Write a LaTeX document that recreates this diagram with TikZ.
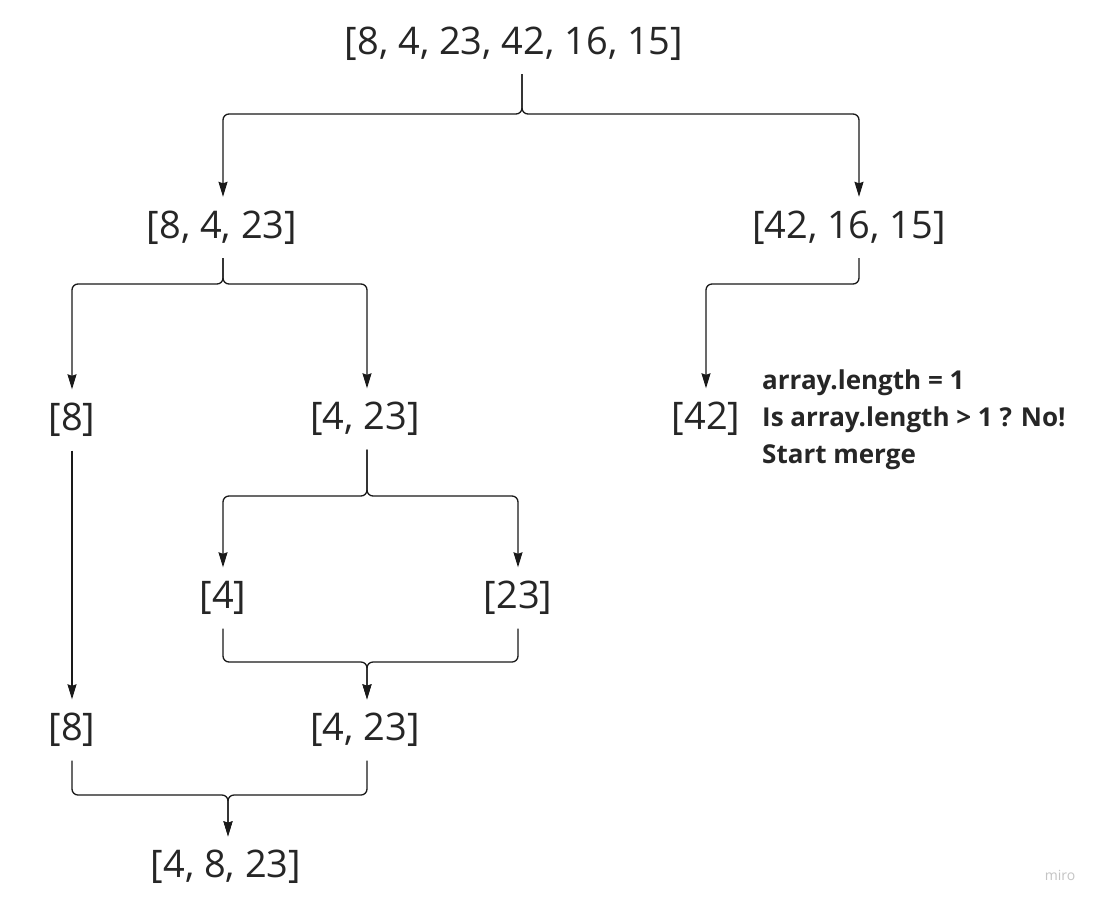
\documentclass[tikz,border=0pt]{standalone}
\usepackage{fontspec}
\setmainfont{Open Sans}
\usetikzlibrary{arrows.meta}
\definecolor{txt}{HTML}{262626}
\definecolor{ln}{HTML}{1A1A1A}
\definecolor{wm}{HTML}{C4C4C4}
\begin{document}
\begin{tikzpicture}[x=1pt,y=-1pt,
  arr/.style={draw=ln,line width=1.3pt,rounded corners=6pt,
    -{Stealth[length=15pt,width=9pt,inset=1.5pt]}},
  arrtext/.style={text=txt,font=\fontsize{38}{45}\selectfont,
    text height=29pt,text depth=8pt,inner xsep=0pt,inner ysep=12pt},
  notetext/.style={text=txt,font=\bfseries\fontsize{26}{37}\selectfont,
    align=left,anchor=west,inner sep=0pt},
  wmtext/.style={text=wm,font=\fontsize{14}{16}\selectfont,inner sep=0pt}]
\useasboundingbox (0,0) rectangle (1103,906);
\fill[white] (0,0) rectangle (1103,906);

% nodes
\node[arrtext] (top) at (514,43.5) {[8, 4, 23, 42, 16, 15]};
\node[arrtext] (l2) at (222,227.5) {[8, 4, 23]};
\node[arrtext] (r2) at (849,227.5) {[42, 16, 15]};
\node[arrtext] (l3a) at (72,420) {[8]};
\node[arrtext] (l3b) at (365,419) {[4, 23]};
\node[arrtext] (r3) at (706,419) {[42]};
\node[notetext] (note) at (762,420) {array.length = 1\\Is array.length > 1 ? No!\\Start merge};
\node[arrtext] (l4a) at (223,598) {[4]};
\node[arrtext] (l4b) at (518,598) {[23]};
\node[arrtext] (l5a) at (72,730) {[8]};
\node[arrtext] (l5b) at (365,730) {[4, 23]};
\node[arrtext] (l6) at (226,867) {[4, 8, 23]};
\node[wmtext] (miro) at (1060,875) {miro};

% junction points
\coordinate (j1) at (522,114);
\coordinate (j2) at (223,284);
\coordinate (j3) at (859,284);
\coordinate (j4) at (367,496);
\coordinate (j5) at (367,662);
\coordinate (j6) at (228,795);

% split of the full array
\draw[arr] ([xshift=8pt]top.south) -- (j1) -| ([xshift=1pt]l2.north);
\draw[arr] ([xshift=8pt]top.south) -- (j1) -| ([xshift=10pt]r2.north);
% split of [8, 4, 23]
\draw[arr] ([xshift=1pt]l2.south) -- (j2) -| (l3a.north);
\draw[arr] ([xshift=1pt]l2.south) -- (j2) -| ([xshift=2pt]l3b.north);
% [42, 16, 15] -> [42]
\draw[arr] ([xshift=10pt]r2.south) -- (j3) -| (r3.north);
% split of [4, 23]
\draw[arr] ([xshift=2pt]l3b.south) -- (j4) -| (l4a.north);
\draw[arr] ([xshift=2pt]l3b.south) -- (j4) -| (l4b.north);
% [8] passes down
\draw[arr] (l3a.south) -- (l5a.north);
% merge [4] and [23]
\draw[arr] (l4a.south) |- (j5) -- ([xshift=2pt]l5b.north);
\draw[arr] (l4b.south) |- (j5) -- ([xshift=2pt]l5b.north);
% merge [8] and [4, 23]
\draw[arr] (l5a.south) |- (j6) -- ([xshift=2pt]l6.north);
\draw[arr] ([xshift=2pt]l5b.south) |- (j6) -- ([xshift=2pt]l6.north);
\end{tikzpicture}
\end{document}
